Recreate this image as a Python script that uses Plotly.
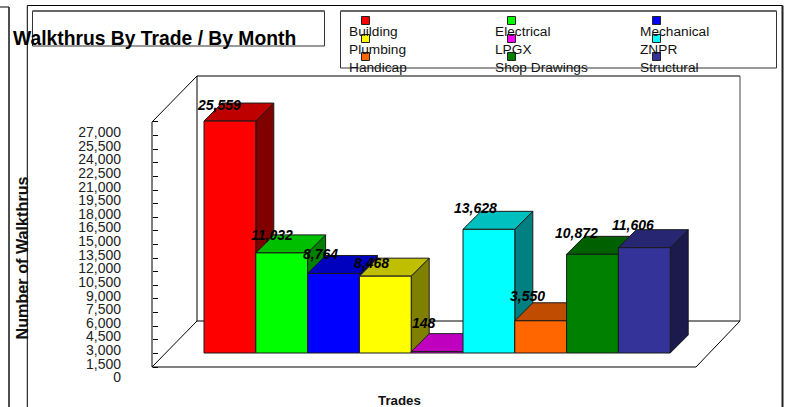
import plotly.graph_objects as go

trades = ["Building", "Electrical", "Mechanical", "Plumbing", "LPGX", "ZNPR",
          "Handicap", "Shop Drawings", "Structural"]
walkthrus = [25559, 11032, 8764, 8468, 148, 13628, 3550, 10872, 11606]
value_labels = ["25,559", "11,032", "8,764", "8,468", "148", "13,628", "3,550", "10,872", "11,606"]
front_colors = ["#FF0000", "#00FF00", "#0000FF", "#FFFF00", "#FF00FF", "#00FFFF", "#FF6600", "#008000", "#333399"]
top_colors = ["#BF0000", "#00BF00", "#0000BF", "#BFBF00", "#BF00BF", "#00BFBF", "#BF4C00", "#006000", "#262673"]
side_colors = ["#800000", "#008000", "#000080", "#808000", "#800080", "#008080", "#803300", "#004000", "#1A1A4D"]
y_ticks = list(range(0, 28500, 1500))

W, H = 790, 407
FONT = "Liberation Sans, Arial, sans-serif"
INK = "#111111"
EDGE = "#1a1a1a"

# Pixel geometry of the scales
BAR_LEFT, BAR_W = 204.0, 51.8
PX_PER_UNIT = 1 / 110.2
DEPTH_PX = 18
dx = DEPTH_PX / BAR_W
dy = DEPTH_PX / PX_PER_UNIT

def y_range(zero_px):
    return [(zero_px - H) / PX_PER_UNIT, zero_px / PX_PER_UNIT]

x_range = [(0 - BAR_LEFT) / BAR_W - 0.5, (W - BAR_LEFT) / BAR_W - 0.5]

def px(x):
    return x / W

def py(y):
    return 1 - y / H

fig = go.Figure()

# Three-dimensional bars, painted left to right
for i, (name, v) in enumerate(zip(trades, walkthrus)):
    l, r = i - 0.5, i + 0.5
    faces = [
        ([r, r + dx, r + dx, r, r], [0, dy, v + dy, v, 0], side_colors[i]),
        ([l, r, r + dx, l + dx, l], [v, v, v + dy, v + dy, v], top_colors[i]),
        ([l, r, r, l, l], [0, 0, v, v, 0], front_colors[i]),
    ]
    for xs, ys, c in faces:
        fig.add_trace(go.Scatter(x=xs, y=ys, yaxis="y2", mode="lines", fill="toself",
                                 fillcolor=c, line=dict(color=EDGE, width=1),
                                 name=name, showlegend=False, hoverinfo="skip"))

# Tick carrier for the axis marks
fig.add_trace(go.Scatter(x=[0], y=[0], yaxis="y3", mode="markers", marker=dict(opacity=0),
                         showlegend=False, hoverinfo="skip"))
# Tick label carrier
fig.add_trace(go.Scatter(x=[0], y=[0], yaxis="y", mode="markers", marker=dict(opacity=0),
                         showlegend=False, hoverinfo="skip"))

shapes = []

def line(x0, y0, x1, y1, color="#000000", width=1, layer="above"):
    shapes.append(dict(type="line", xref="paper", yref="paper", x0=px(x0), y0=py(y0),
                       x1=px(x1), y1=py(y1), line=dict(color=color, width=width), layer=layer))

def rect(x0, y0, x1, y1, fill, color="#000000", width=1, layer="above"):
    shapes.append(dict(type="rect", xref="paper", yref="paper", x0=px(x0), y0=py(y0),
                       x1=px(x1), y1=py(y1), fillcolor=fill, line=dict(color=color, width=width), layer=layer))

# Page frames
line(0, 7, 9, 7, width=1)
line(9, 7, 9, 407, color="#222222", width=1.6)
line(27.3, 5.5, 782.5, 5.5, width=1)
line(27.3, 5.5, 27.3, 407, width=1)
line(782.5, 5.5, 782.5, 407, color="#222222", width=2)

# Title and legend boxes
rect(32.5, 11, 324.5, 46, "rgba(0,0,0,0)", color="#333333", layer="below")
line(32.5, 11, 324.5, 11, color="#666666", width=2, layer="below")
rect(340.5, 11, 776.5, 68, "rgba(0,0,0,0)", color="#333333", layer="below")
line(340.5, 11, 776.5, 11, color="#666666", width=2, layer="below")

# 3-D walls and floor
W_L, W_R, W_T, W_B = 197, 740, 76, 321
F_L, F_R, F_T, F_B = 152, 696, 122, 367
line(W_L, W_T, W_R, W_T, layer="below")
line(W_L, W_T, W_L, W_B, layer="below")
line(W_R, W_T, W_R, W_B, color="#444444", layer="below")
line(W_L, W_B, W_R, W_B, layer="below")
line(F_L, F_T, W_L, W_T, layer="below")
line(F_L, F_T, F_L, F_B, layer="below")
line(F_L, F_B, F_R, F_B, layer="below")
line(F_L, F_B, W_L, W_B, layer="below")
line(F_R, F_B, W_R, W_B, layer="below")

# Legend
col_sq = [365.5, 511.5, 656.5]
col_tx = [347, 493, 638]
row_sq = [20.5, 38.5, 56.5]
row_tx = [31.5, 49.5, 67.5]
annotations = []
for i, name in enumerate(trades):
    c, r = i % 3, i // 3
    rect(col_sq[c] - 4, row_sq[r] - 4, col_sq[c] + 4, row_sq[r] + 4, front_colors[i], color="#222222")
    annotations.append(dict(xref="paper", yref="paper", x=px(col_tx[c]), y=py(row_tx[r]),
                            text=name, showarrow=False, xanchor="left", yanchor="middle",
                            font=dict(family=FONT, size=13.7, color=INK)))

# Value labels
label_dx = [-10.5, -9.5, -12.9, -13.5, -13.2, -13.5, -13.2, -16, -11.1]
label_dy = [15.7, 18, 19, 13.5, 28.6, 21.7, 24.4, 21.7, 23]
for i, v in enumerate(walkthrus):
    annotations.append(dict(xref="x", yref="y2", x=i, y=v, text=value_labels[i], showarrow=False,
                            xanchor="center", yanchor="middle", xshift=label_dx[i], yshift=label_dy[i],
                            font=dict(family=FONT, size=14, color="#000000", weight="bold", style="italic")))

# Titles
annotations.append(dict(xref="paper", yref="paper", x=px(11), y=py(39), text="Walkthrus By Trade / By Month",
                        showarrow=False, xanchor="left", yanchor="middle",
                        font=dict(family=FONT, size=19.3, color="#000000", weight="bold")))
annotations.append(dict(xref="paper", yref="paper", x=px(21), y=py(258.5), text="Number of Walkthrus",
                        showarrow=False, textangle=-90, xanchor="center", yanchor="middle",
                        font=dict(family=FONT, size=16.2, color=INK, weight="bold")))
annotations.append(dict(xref="paper", yref="paper", x=px(399), y=py(400), text="Trades",
                        showarrow=False, xanchor="center", yanchor="middle",
                        font=dict(family=FONT, size=13.3, color=INK, weight="bold")))

fig.update_layout(
    width=W, height=H, autosize=False, margin=dict(l=0, r=0, t=0, b=0),
    paper_bgcolor="white", plot_bgcolor="white", showlegend=False,
    shapes=shapes, annotations=annotations,
    xaxis=dict(range=x_range, domain=[0, 1], visible=False, fixedrange=True),
    yaxis=dict(range=y_range(377.3), domain=[0, 1], anchor="free", position=px(121), side="left",
               tickvals=y_ticks, tickformat=",", ticks="", showgrid=False, zeroline=False, showline=False,
               tickfont=dict(family=FONT, size=14, color="#222222"), fixedrange=True),
    yaxis2=dict(range=y_range(353), domain=[0, 1], overlaying="y", visible=False, fixedrange=True),
    yaxis3=dict(range=y_range(367), domain=[0, 1], overlaying="y", anchor="free", position=px(152), side="right",
                tickvals=y_ticks, ticks="outside", ticklen=5, tickcolor="#000000", showticklabels=False,
                showgrid=False, zeroline=False, showline=False, fixedrange=True),
)

fig.write_html("out.html", config=dict(displayModeBar=False),
               post_script="document.documentElement.style.overflow='hidden';document.body.style.margin='0';")
